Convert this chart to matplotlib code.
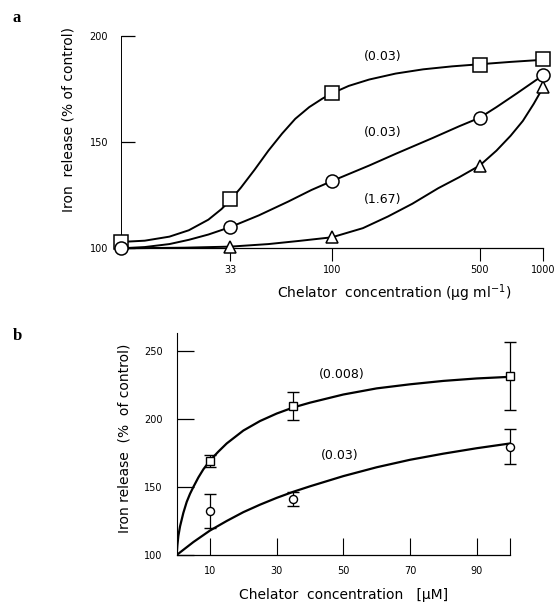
import numpy as np
import matplotlib.pyplot as plt

# panel a: chelator concentration (ug/ml), log axis
a_x = [10, 33, 100, 500, 1000]
a_sq = [103, 123, 173, 186.5, 189]
a_ci = [100, 110, 131.7, 161.5, 181.6]
a_tr_x = [33, 100, 500, 1000]
a_tr = [100.8, 105.2, 139, 176]

# fitted curves
a_sq_cx = [10, 13, 17, 21, 26, 30, 33, 37, 43, 50, 58, 67, 78, 90, 100, 120, 150, 200,
           270, 370, 500, 700, 1000]
a_sq_cy = [103, 103.6, 105.5, 108.5, 113.5, 118.5, 122.7, 128.5, 137, 146, 154, 161,
           166.5, 170.5, 173, 176.5, 179.5, 182.3, 184.3, 185.7, 186.7, 187.8, 188.8]
a_ci_cx = [10, 13, 17, 21, 26, 33, 45, 62, 80, 100, 150, 200, 300, 400, 500, 600, 750, 1000]
a_ci_cy = [100, 100.6, 102, 104, 106.5, 110, 115.5, 122, 127.5, 131.7, 139, 144.5, 152,
           157.5, 161.5, 166.5, 173, 181.6]
a_tr_cx = [10, 20, 33, 50, 70, 100, 140, 184, 240, 318, 400, 500, 600, 700, 800, 900, 1000]
a_tr_cy = [100, 100.3, 100.8, 102, 103.5, 105.2, 109.5, 115, 121, 128.3, 133.5, 139, 146,
           153, 160, 168, 176]

# panel b: chelator concentration (uM)
b_x = [10, 35, 100]
b_sq = [169, 209.6, 231.6]
b_sq_err = [4.5, 10, 25]
b_ci = [132.6, 141, 179.6]
b_ci_err = [12.6, 5.3, 12.8]

b_sq_cx = [0, 0.2, 0.5, 1, 2, 3, 4, 5, 6.5, 8, 10, 12.5, 15, 20, 25, 30, 35, 40, 50, 60,
           70, 80, 90, 100]
b_sq_cy = [100, 107, 114, 121, 131, 139, 145, 150, 157, 163, 169.5, 176, 182, 191.5,
           198.5, 204, 208.5, 212, 218, 222.5, 225.5, 228, 229.8, 231]
b_ci_cx = [0, 5, 10, 15, 20, 25, 30, 35, 40, 50, 60, 70, 80, 90, 100]
b_ci_cy = [100, 109.5, 118, 125, 131.5, 137, 142, 146.5, 150.5, 158, 164.5, 170, 174.5,
           178.5, 182]

plt.rcParams['font.family'] = 'DejaVu Sans'
fig = plt.figure(figsize=(5.56, 6.07), dpi=100)

# ---- panel a ----
ax1 = fig.add_axes([0.2171, 0.5909, 0.7601, 0.3498])
ax1.set_xscale('log')
ax1.set_xlim(10, 1000)
ax1.set_ylim(100, 200)
ax1.plot(a_sq_cx, a_sq_cy, 'k-', lw=1.4, clip_on=False)
ax1.plot(a_ci_cx, a_ci_cy, 'k-', lw=1.4, clip_on=False)
ax1.plot(a_tr_cx, a_tr_cy, 'k-', lw=1.4, clip_on=False)
ax1.plot(a_x, a_sq, 's', ms=9.4, mfc='white', mec='k', mew=1.1, clip_on=False, zorder=3)
ax1.plot(a_tr_x, a_tr, '^', ms=8.5, mfc='white', mec='k', mew=1.1, clip_on=False, zorder=3)
ax1.plot(a_x, a_ci, 'o', ms=9.4, mfc='white', mec='k', mew=1.1, clip_on=False, zorder=4)
for s in ['top', 'right']:
    ax1.spines[s].set_visible(False)
ax1.spines['left'].set_linewidth(0.7)
ax1.spines['bottom'].set_linewidth(0.9)
ax1.set_yticks([100, 150, 200])
ax1.set_yticklabels(['100', '150', '200'])
ax1.tick_params(axis='y', direction='in', length=10, width=0.9, pad=9, labelsize=7)
ax1.set_xticks([33, 100, 500, 1000])
ax1.set_xticklabels(['33', '100', '500', '1000'])
ax1.xaxis.set_minor_locator(plt.NullLocator())
ax1.tick_params(axis='x', direction='out', length=9, width=0.8, pad=3, labelsize=7)
ax1.text(174, 190.2, '(0.03)', ha='center', va='center', fontsize=9)
ax1.text(174, 154.5, '(0.03)', ha='center', va='center', fontsize=9)
ax1.text(174, 123.2, '(1.67)', ha='center', va='center', fontsize=9)

fig.text(68 / 556, 1 - 120 / 607, 'Iron  release (% of control)', rotation=90,
         ha='center', va='center', fontsize=10)
fig.text(394 / 556, 1 - 293 / 607, 'Chelator  concentration (µg ml$^{-1}$)',
         ha='center', va='center', fontsize=10)
fig.text(17 / 556, 1 - 18 / 607, 'a', ha='center', va='center', fontsize=12,
         family='Liberation Serif', fontweight='bold')

# ---- panel b ----
ax2 = fig.add_axes([0.3178, 0.0857, 0.5995, 0.3652])
ax2.set_xlim(0, 100)
ax2.set_ylim(100, 263)
ax2.plot(b_sq_cx, b_sq_cy, 'k-', lw=1.6)
ax2.plot(b_ci_cx, b_ci_cy, 'k-', lw=1.6)
ax2.errorbar(b_x, b_sq, yerr=b_sq_err, fmt='s', ms=5.8, mfc='white', mec='k', mew=1.0,
             ecolor='k', elinewidth=0.9, capsize=4.2, capthick=0.9, clip_on=False, zorder=3)
ax2.errorbar(b_x, b_ci, yerr=b_ci_err, fmt='o', ms=5.8, mfc='white', mec='k', mew=1.0,
             ecolor='k', elinewidth=0.9, capsize=4.2, capthick=0.9, clip_on=False, zorder=3)
for s in ['top', 'right']:
    ax2.spines[s].set_visible(False)
ax2.spines['left'].set_linewidth(0.8)
ax2.spines['bottom'].set_linewidth(0.9)
ax2.set_yticks([100, 150, 200, 250])
ax2.set_yticklabels(['100', '150', '200', '250'])
ax2.tick_params(axis='y', direction='in', length=12, width=0.9, pad=10, labelsize=7)
ax2.set_xticks([10, 30, 50, 70, 90, 100])
ax2.set_xticklabels(['10', '30', '50', '70', '90', ''])
ax2.tick_params(axis='x', direction='in', length=12, width=0.8, pad=8, labelsize=7)
ax2.text(49.5, 232.4, '(0.008)', ha='center', va='center', fontsize=9)
ax2.text(49, 173.5, '(0.03)', ha='center', va='center', fontsize=9)

fig.text(125 / 556, 1 - 438 / 607, 'Iron release  (%  of control)', rotation=90,
         ha='center', va='center', fontsize=10)
fig.text(344 / 556, 1 - 595 / 607, 'Chelator  concentration   [µM]',
         ha='center', va='center', fontsize=10)
fig.text(17 / 556, 1 - 336 / 607, 'b', ha='center', va='center', fontsize=12,
         family='Liberation Serif', fontweight='bold')

fig.savefig('out.png', dpi=100)
